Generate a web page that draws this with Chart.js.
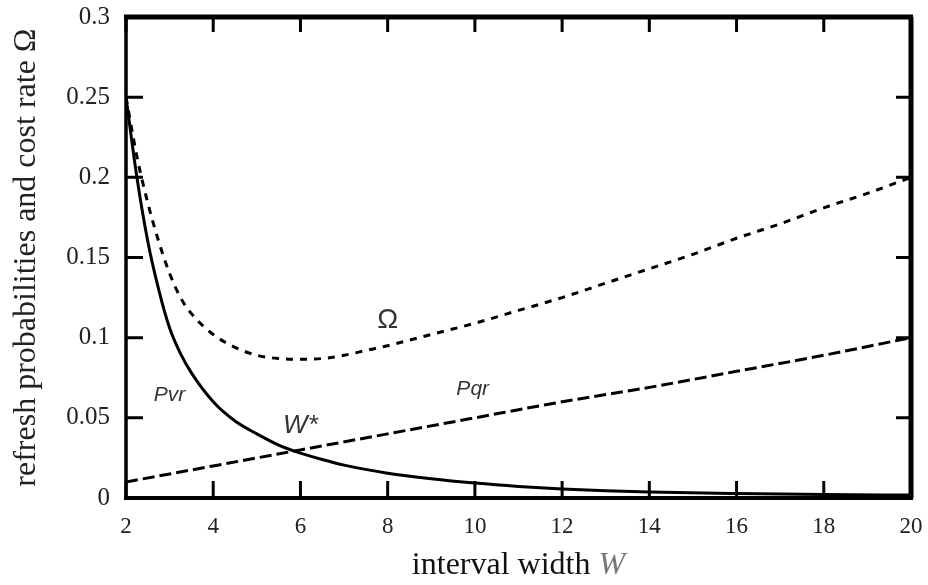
<!DOCTYPE html>
<html>
<head>
<meta charset="utf-8">
<script src="https://cdn.jsdelivr.net/npm/chart.js@4.4.0/dist/chart.umd.min.js"></script>
<style>
html, body { margin: 0; padding: 0; background: #fff; }
</style>
</head>
<body>
<canvas id="chart" width="928" height="585"></canvas>
<script>
// values (x = interval width W)
const pvrW = [2, 2.25, 2.5, 2.75, 3, 3.25, 3.5, 4, 4.5, 5, 5.5, 6, 6.5, 7, 8, 9, 10, 11, 12, 13, 14, 16, 18, 20];
const pvrValues = [0.25, 0.2, 0.16, 0.13, 0.106, 0.09, 0.078, 0.06, 0.048, 0.04, 0.033, 0.028, 0.024, 0.0205, 0.0155, 0.012, 0.0093, 0.0072, 0.0056, 0.0045, 0.0037, 0.0028, 0.0022, 0.0018];

const pqrW = [2, 4, 6, 8, 10, 12, 14, 16, 18, 20];
const pqrValues = [0.01, 0.02, 0.03, 0.04, 0.05, 0.06, 0.069, 0.079, 0.089, 0.1];

const omegaW = [2, 2.25, 2.5, 2.75, 3, 3.25, 3.5, 4, 4.5, 5, 5.5, 6, 6.5, 7, 7.5, 8, 9, 10, 11, 12, 13, 14, 15, 16, 17, 18, 19, 20];
const omegaValues = [0.25, 0.213, 0.184, 0.16, 0.14, 0.125, 0.115, 0.102, 0.094, 0.089, 0.087, 0.0865, 0.087, 0.089, 0.092, 0.095, 0.102, 0.109, 0.117, 0.125, 0.134, 0.143, 0.152, 0.162, 0.171, 0.181, 0.19, 0.2];

const xTicks = [2, 4, 6, 8, 10, 12, 14, 16, 18, 20];
const yTicks = [0, 0.05, 0.1, 0.15, 0.2, 0.25, 0.3];

// curve labels drawn inside the plot (data coords)
const curveLabels = [
    { text: 'Ω', w: 8.0, v: 0.111, font: '28px "Liberation Sans"' },
    { text: 'Pqr', w: 9.95, v: 0.068, font: 'italic 21px "Liberation Sans"' },
    { text: 'Pvr', w: 3.0, v: 0.064, font: 'italic 21px "Liberation Sans"' },
    { text: 'W*', w: 6.0, v: 0.045, font: 'italic 26px "Liberation Sans"' }
];

function toPoints(xs, ys) {
    return xs.map((w, i) => ({ x: w, y: ys[i] }));
}

// Plugin to draw the box and the inward tick marks
const framePlugin = {
    id: 'frame',
    afterDatasetsDraw(chart) {
        const { ctx, chartArea: a, scales: { x, y } } = chart;
        ctx.save();
        ctx.strokeStyle = '#000';
        ctx.lineCap = 'butt';

        ctx.lineWidth = 3;
        xTicks.forEach(t => {
            const px = x.getPixelForValue(t);
            ctx.beginPath();
            ctx.moveTo(px, a.bottom);
            ctx.lineTo(px, a.bottom - 17);
            ctx.moveTo(px, a.top);
            ctx.lineTo(px, a.top + 15);
            ctx.stroke();
        });
        yTicks.forEach(t => {
            const py = y.getPixelForValue(t);
            ctx.beginPath();
            ctx.moveTo(a.left, py);
            ctx.lineTo(a.left + 17, py);
            ctx.moveTo(a.right, py);
            ctx.lineTo(a.right - 15, py);
            ctx.stroke();
        });

        // sides of the box
        ctx.lineWidth = 5;
        ctx.beginPath();
        ctx.moveTo(a.left - 2, a.top);
        ctx.lineTo(a.right + 2, a.top);
        ctx.stroke();
        ctx.lineWidth = 4;
        ctx.beginPath();
        ctx.moveTo(a.left - 2, a.bottom);
        ctx.lineTo(a.right + 2, a.bottom);
        ctx.stroke();
        ctx.lineWidth = 3.5;
        ctx.beginPath();
        ctx.moveTo(a.left, a.top);
        ctx.lineTo(a.left, a.bottom);
        ctx.stroke();
        ctx.lineWidth = 5;
        ctx.beginPath();
        ctx.moveTo(a.right, a.top);
        ctx.lineTo(a.right, a.bottom);
        ctx.stroke();

        // curve labels
        ctx.fillStyle = '#333';
        ctx.textAlign = 'center';
        ctx.textBaseline = 'middle';
        curveLabels.forEach(l => {
            ctx.font = l.font;
            ctx.fillText(l.text, x.getPixelForValue(l.w), y.getPixelForValue(l.v));
        });

        // x axis title with italic W
        const cx = (a.left + a.right) / 2;
        const ty = 566;
        const plain = 'interval width ';
        ctx.font = '32px "Liberation Serif"';
        const w1 = ctx.measureText(plain).width;
        ctx.font = 'italic 32px "Liberation Serif"';
        const w2 = ctx.measureText('W').width;
        const start = cx - (w1 + w2) / 2;
        ctx.textAlign = 'left';
        ctx.fillStyle = '#111';
        ctx.font = '32px "Liberation Serif"';
        ctx.fillText(plain, start, ty);
        ctx.fillStyle = '#777';
        ctx.font = 'italic 32px "Liberation Serif"';
        ctx.fillText('W', start + w1, ty);
        ctx.restore();
    }
};

function createChart() {
    const ctx = document.getElementById('chart').getContext('2d');
    new Chart(ctx, {
        type: 'line',
        data: {
            datasets: [
                {
                    label: 'Pvr',
                    data: toPoints(pvrW, pvrValues),
                    borderColor: '#000',
                    borderWidth: 3,
                    pointRadius: 0,
                    cubicInterpolationMode: 'monotone'
                },
                {
                    label: 'Pqr',
                    data: toPoints(pqrW, pqrValues),
                    borderColor: '#000',
                    borderWidth: 3,
                    borderDash: [12, 5],
                    pointRadius: 0,
                    cubicInterpolationMode: 'monotone'
                },
                {
                    label: 'Ω',
                    data: toPoints(omegaW, omegaValues),
                    borderColor: '#000',
                    borderWidth: 3,
                    borderDash: [7, 7],
                    pointRadius: 0,
                    cubicInterpolationMode: 'monotone'
                }
            ]
        },
        options: {
            responsive: false,
            animation: false,
            devicePixelRatio: 1,
            layout: { padding: { left: 0, right: 17, top: 17, bottom: 0 } },
            plugins: {
                legend: { display: false },
                tooltip: { enabled: false }
            },
            scales: {
                x: {
                    type: 'linear',
                    min: 2,
                    max: 20,
                    afterBuildTicks: scale => { scale.ticks = xTicks.map(v => ({ value: v })); },
                    afterFit: scale => {
                        scale.height = 87;
                        scale.paddingLeft = 0;
                        scale.paddingRight = 0;
                    },
                    ticks: {
                        color: '#222',
                        font: { family: '"Liberation Serif"', size: 23 },
                        padding: 15,
                        maxRotation: 0
                    },
                    grid: { display: false, drawTicks: false },
                    border: { display: false }
                },
                y: {
                    min: 0,
                    max: 0.3,
                    afterBuildTicks: scale => { scale.ticks = yTicks.map(v => ({ value: v })); },
                    afterFit: scale => {
                        scale.width = 126;
                        scale.paddingTop = 0;
                        scale.paddingBottom = 0;
                    },
                    ticks: {
                        color: '#222',
                        font: { family: '"Liberation Serif"', size: 25 },
                        padding: 16,
                        callback: v => String(Number(v.toFixed(2)))
                    },
                    grid: { display: false, drawTicks: false },
                    border: { display: false },
                    title: {
                        display: true,
                        text: 'refresh probabilities and cost rate Ω',
                        color: '#222',
                        font: { family: '"Liberation Serif"', size: 32 },
                        padding: { top: 7, bottom: 0 }
                    }
                }
            }
        },
        plugins: [framePlugin]
    });
}

createChart();
</script>
</body>
</html>
